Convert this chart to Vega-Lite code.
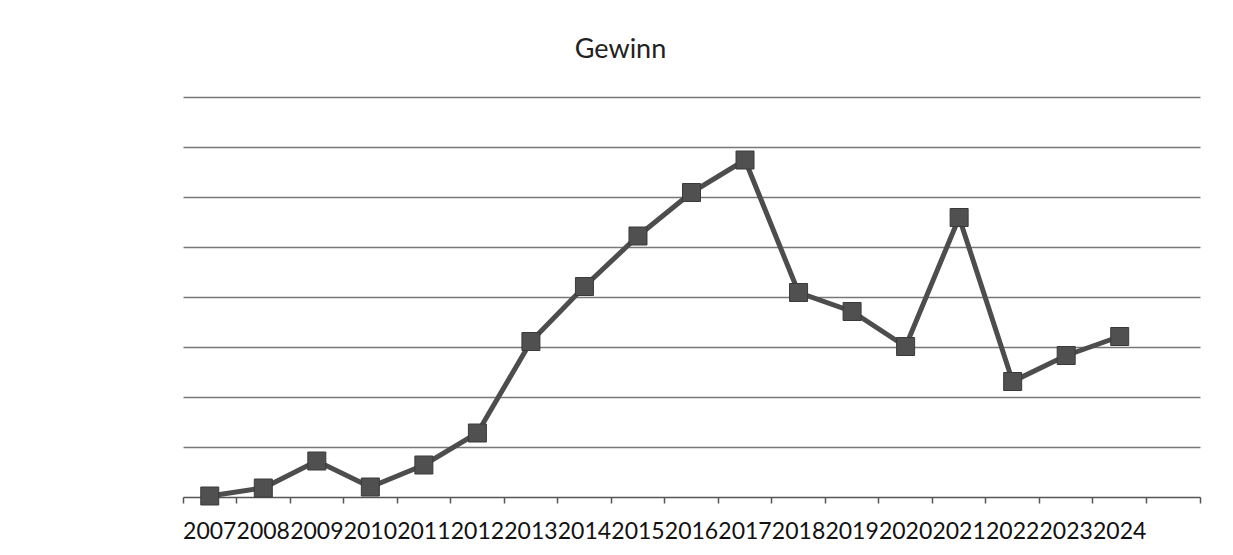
{
  "$schema": "https://vega.github.io/schema/vega-lite/v6.json",
  "autosize": {"type": "none"},
  "padding": {"left": 183, "top": 97, "right": 33, "bottom": 58},
  "width": 1017,
  "height": 400,
  "background": "white",
  "title": {
    "text": "Gewinn",
    "font": "Lato",
    "fontSize": 27,
    "fontWeight": "normal",
    "color": "#222222",
    "anchor": "middle",
    "dx": -71,
    "offset": 33
  },
  "config": {"view": {"stroke": null}},
  "data": {
    "values": [
      {"Jahr": "2007", "Gewinn": 0.2},
      {"Jahr": "2008", "Gewinn": 1.8},
      {"Jahr": "2009", "Gewinn": 7.2},
      {"Jahr": "2010", "Gewinn": 2.0},
      {"Jahr": "2011", "Gewinn": 6.4},
      {"Jahr": "2012", "Gewinn": 12.8},
      {"Jahr": "2013", "Gewinn": 31.1},
      {"Jahr": "2014", "Gewinn": 42.1},
      {"Jahr": "2015", "Gewinn": 52.2},
      {"Jahr": "2016", "Gewinn": 60.9},
      {"Jahr": "2017", "Gewinn": 67.4},
      {"Jahr": "2018", "Gewinn": 40.9},
      {"Jahr": "2019", "Gewinn": 37.1},
      {"Jahr": "2020", "Gewinn": 30.1},
      {"Jahr": "2021", "Gewinn": 55.9},
      {"Jahr": "2022", "Gewinn": 23.1},
      {"Jahr": "2023", "Gewinn": 28.3},
      {"Jahr": "2024", "Gewinn": 32.1}
    ]
  },
  "encoding": {
    "x": {
      "field": "Jahr",
      "type": "ordinal",
      "title": null,
      "scale": {
        "type": "band",
        "domain": ["2007","2008","2009","2010","2011","2012","2013","2014","2015","2016","2017","2018","2019","2020","2021","2022","2023","2024","2025"],
        "paddingInner": 0,
        "paddingOuter": 0
      },
      "axis": {
        "labelAngle": 0,
        "labelExpr": "datum.value == '2025' ? '' : datum.label",
        "labelFont": "Lato",
        "labelFontSize": 23,
        "labelColor": "#111111",
        "labelOverlap": false,
        "labelBound": false,
        "labelPadding": 17,
        "bandPosition": 1,
        "tickExtra": true,
        "tickSize": 6,
        "tickColor": "#555555",
        "tickWidth": 1.5,
        "domainColor": "#555555",
        "domainWidth": 1.5,
        "grid": false
      }
    },
    "y": {
      "field": "Gewinn",
      "type": "quantitative",
      "title": null,
      "scale": {"domain": [0, 80], "nice": false},
      "axis": {
        "values": [10, 20, 30, 40, 50, 60, 70, 80],
        "labels": false,
        "ticks": false,
        "domain": false,
        "grid": true,
        "gridColor": "#777777",
        "gridWidth": 1.5
      }
    }
  },
  "layer": [
    {
      "mark": {"type": "line", "color": "#4d4d4d", "strokeWidth": 5}
    },
    {
      "mark": {"type": "point", "shape": "square", "filled": true, "size": 324, "color": "#505050", "opacity": 1, "stroke": "#3a3a3a", "strokeWidth": 1}
    }
  ]
}
